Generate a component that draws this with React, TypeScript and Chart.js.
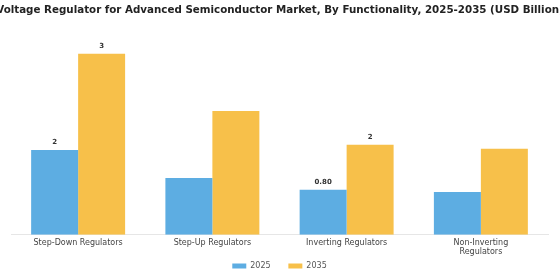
import React, { useEffect, useRef } from "react";
import Chart from "chart.js/auto";

const categories: (string | string[])[] = [
  "Step-Down Regulators",
  "Step-Up Regulators",
  "Inverting Regulators",
  ["Non-Inverting", "Regulators"],
];
const values2025 = [1.51, 1.01, 0.8, 0.76];
const values2035 = [3.22, 2.2, 1.6, 1.53];
const showLabels2025 = [true, false, true, false];
const showLabels2035 = [true, false, true, false];
const titleText =
  "Voltage Regulator for Advanced Semiconductor Market, By Functionality, 2025-2035 (USD Billion)";

const fmt = (v: number) => (v < 1 ? v.toFixed(2) : Math.round(v).toString());

const valueLabels = {
  id: "valueLabels",
  afterDatasetsDraw(chart: any) {
    const ctx = chart.ctx;
    const shows = [showLabels2025, showLabels2035];
    ctx.save();
    ctx.font = "bold 7px 'DejaVu Sans'";
    ctx.fillStyle = "#333";
    ctx.textAlign = "center";
    ctx.textBaseline = "bottom";
    chart.data.datasets.forEach((ds: any, di: number) => {
      const meta = chart.getDatasetMeta(di);
      meta.data.forEach((bar: any, i: number) => {
        if (!shows[di][i]) return;
        ctx.fillText(fmt(ds.data[i]), bar.x, bar.y - 4);
      });
    });
    ctx.restore();
  },
};

const wideTitle = {
  id: "wideTitle",
  afterDraw(chart: any) {
    const ctx = chart.ctx;
    ctx.save();
    ctx.font = "bold 10.3px 'DejaVu Sans'";
    ctx.fillStyle = "#222";
    ctx.textAlign = "center";
    ctx.textBaseline = "middle";
    ctx.fillText(titleText, chart.width / 2, 10);
    ctx.restore();
  },
};

export default function App() {
  const ref = useRef<HTMLCanvasElement>(null);
  useEffect(() => {
    if (!ref.current) return;
    const chart = new Chart(ref.current, {
      type: "bar",
      data: {
        labels: categories as any,
        datasets: [
          {
            label: "2025",
            data: values2025,
            backgroundColor: "#5DADE2",
            categoryPercentage: 0.7,
            barPercentage: 1.0,
          },
          {
            label: "2035",
            data: values2035,
            backgroundColor: "#F7C04A",
            categoryPercentage: 0.7,
            barPercentage: 1.0,
          },
        ],
      },
      options: {
        animation: false,
        responsive: true,
        maintainAspectRatio: false,
        layout: { padding: { left: 11, right: 12, top: 38, bottom: 0 } },
        plugins: {
          title: { display: false },
          legend: {
            position: "bottom",
            labels: {
              boxWidth: 14,
              boxHeight: 5,
              color: "#555",
              font: { family: "'DejaVu Sans'", size: 8 },
              padding: 5,
              generateLabels: (c: any) => {
                const items = (Chart as any).defaults.plugins.legend.labels.generateLabels(c);
                items.forEach((it: any, i: number) => {
                  if (i < items.length - 1) it.text = it.text + "     ";
                });
                return items;
              },
            },
          },
          tooltip: { enabled: false },
        },
        scales: {
          x: {
            grid: { display: false, drawTicks: true, tickLength: 3 },
            border: { display: true, color: "#e6e6e6" },
            ticks: {
              color: "#444",
              font: { family: "'DejaVu Sans'", size: 8 },
              padding: 0,
              maxRotation: 0,
              autoSkip: false,
            },
          },
          y: {
            display: false,
            min: 0,
            max: 3.5,
          },
        },
      },
      plugins: [valueLabels, wideTitle],
    });
    return () => chart.destroy();
  }, []);
  return (
    <div style={{ position: "fixed", left: 0, top: 0, width: 560, height: 280, background: "#fff" }}>
      <canvas ref={ref} />
    </div>
  );
}
